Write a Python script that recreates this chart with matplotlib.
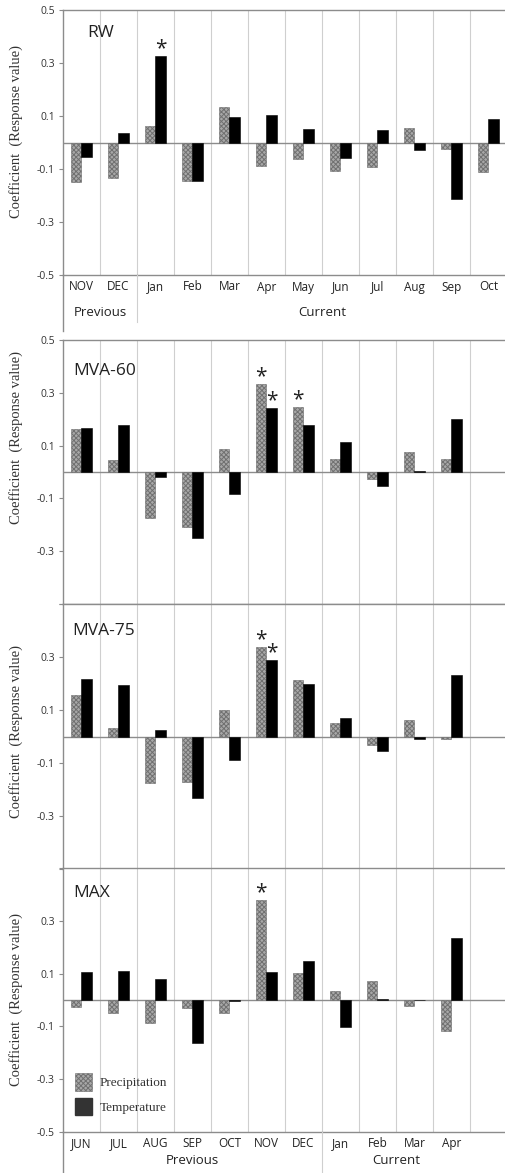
import numpy as np
import matplotlib
matplotlib.use("Agg")
import matplotlib.pyplot as plt
from matplotlib.patches import Patch
from matplotlib.lines import Line2D

# months
months_rw = ["NOV", "DEC", "Jan", "Feb", "Mar", "Apr", "May", "Jun", "Jul", "Aug", "Sep", "Oct"]
months_mva = ["JUN", "JUL", "AUG", "SEP", "OCT", "NOV", "DEC", "Jan", "Feb", "Mar", "Apr"]

# coefficients
rw_prec = [-0.150, -0.135, 0.061, -0.146, 0.135, -0.088, -0.061, -0.106, -0.091, 0.056, -0.023, -0.113]
rw_temp = [-0.056, 0.034, 0.328, -0.144, 0.098, 0.104, 0.051, -0.059, 0.049, -0.030, -0.215, 0.090]

mva60_prec = [0.161, 0.046, -0.175, -0.208, 0.087, 0.334, 0.247, 0.051, -0.027, 0.077, 0.049]
mva60_temp = [0.166, 0.179, -0.020, -0.250, -0.085, 0.244, 0.178, 0.114, -0.054, 0.005, 0.200]

mva75_prec = [0.155, 0.031, -0.174, -0.171, 0.099, 0.339, 0.213, 0.050, -0.033, 0.064, -0.010]
mva75_temp = [0.218, 0.195, 0.023, -0.233, -0.089, 0.289, 0.198, 0.070, -0.054, -0.009, 0.231]

max_prec = [-0.025, -0.048, -0.086, -0.032, -0.050, 0.377, 0.101, 0.034, 0.073, -0.023, -0.116]
max_temp = [0.106, 0.111, 0.080, -0.163, -0.005, 0.106, 0.148, -0.103, 0.004, 0.000, 0.233]

# significant bars: (month index, series)  series 0 = precipitation, 1 = temperature
rw_sig = [(2, 1)]
mva60_sig = [(5, 0), (5, 1), (6, 0)]
mva75_sig = [(5, 0), (5, 1)]
max_sig = [(5, 0)]

yticks = [-0.5, -0.3, -0.1, 0.1, 0.3, 0.5]

W, H = 505, 1173
fig = plt.figure(figsize=(W / 100, H / 100), dpi=100)
plt.rcParams['hatch.linewidth'] = 0.7
plt.rcParams['hatch.color'] = '#505050'

GREY = '#8c8c8c'
PREC_FACE = '#a8a8a8'
SANS = ['Open Sans', 'DejaVu Sans']
SERIF = ['Liberation Serif', 'DejaVu Serif']
XMAX = 11.95
left = 63 / W
width = 1 - left


def ax_at(top_px, bot_px):
    return fig.add_axes([left, 1 - bot_px / H, width, (bot_px - top_px) / H])


def draw_panel(ax, name, prec, temp, sig, shown_ticks, name_pos):
    x = np.arange(len(prec)) + 0.5
    bw = 0.285
    ax.bar(x - bw / 2, prec, bw, color=PREC_FACE, hatch='xxxxxxx', edgecolor='#707070',
           linewidth=0.4, zorder=3)
    ax.bar(x + bw / 2, temp, bw, color='black', edgecolor='black', linewidth=0.4, zorder=3)
    for i, s in sig:
        v = prec[i] if s == 0 else temp[i]
        xs = x[i] - bw / 2 if s == 0 else x[i] + bw / 2
        ax.text(xs, v - 0.012, '*', ha='center', va='bottom', fontsize=15,
                family=SANS, color='#222222')
    ax.axhline(0, color=GREY, lw=1.0, zorder=2)
    for b in range(1, 12):
        ax.axvline(b, color='#cfcfcf', lw=0.8, zorder=1)
    ax.set_xlim(0, XMAX)
    ax.set_ylim(-0.5, 0.5)
    ax.set_yticks(yticks)
    ax.set_yticklabels([('%.1f' % t) if t in shown_ticks else '' for t in yticks],
                       fontsize=7.5, family=SANS, color='#333333')
    ax.tick_params(axis='y', length=3, color=GREY, pad=3)
    ax.set_xticks([])
    for s in ['left', 'top', 'bottom']:
        ax.spines[s].set_color(GREY)
        ax.spines[s].set_linewidth(1.0)
    ax.spines['right'].set_visible(False)
    ax.text(name_pos[0], name_pos[1], name, transform=ax.transAxes, fontsize=12.5,
            family=SANS, ha='left', va='center', color='#222222')


def ylabel_at(yc):
    fig.text(16 / W, 1 - yc / H, 'Coefficient  (Response value)', rotation=90,
             ha='center', va='center', fontsize=10.5, family=SERIF, color='#333333')


def month_labels(ax, labels, groups, bot_px, split, gap, sep_len):
    for i, m in enumerate(labels):
        ax.text(i + 0.5, -0.5 - 12 / 265, m, ha='center', va='center', fontsize=8.5,
                family=SANS, color='#222222', clip_on=False)
    for xc, g in groups:
        ax.text(xc, -0.5 - gap / 265, g, ha='center', va='center', fontsize=9.5,
                family=SANS, color='#222222', clip_on=False)
    # separator between previous and current year
    xs = left + split / XMAX * width
    fig.add_artist(Line2D([xs, xs], [1 - bot_px / H, 1 - (bot_px + sep_len) / H],
                          color='#cfcfcf', lw=0.8))
    fig.add_artist(Line2D([left, left], [1 - bot_px / H, 1 - (bot_px + 56) / H],
                          color=GREY, lw=1.0))


ax1 = ax_at(10, 275)
draw_panel(ax1, 'RW', rw_prec, rw_temp, rw_sig, [-0.5, -0.3, -0.1, 0.1, 0.3, 0.5], (0.054, 0.913))
month_labels(ax1, months_rw, [(1, 'Previous'), (7, 'Current')], 275, 2, 37, 47)
ylabel_at(131)

ax2 = ax_at(340, 604)
draw_panel(ax2, 'MVA-60', mva60_prec, mva60_temp, mva60_sig, [-0.3, -0.1, 0.1, 0.3, 0.5], (0.023, 0.883))
ylabel_at(438)

ax3 = ax_at(604, 869)
draw_panel(ax3, 'MVA-75', mva75_prec, mva75_temp, mva75_sig, [-0.3, -0.1, 0.1, 0.3], (0.02, 0.90))
ylabel_at(732)

ax4 = ax_at(868, 1132)
draw_panel(ax4, 'MAX', max_prec, max_temp, max_sig, [-0.5, -0.3, -0.1, 0.1, 0.3], (0.023, 0.905))
month_labels(ax4, months_mva, [(3.5, 'Previous'), (9, 'Current')], 1132, 7, 29, 45)
ylabel_at(1000)

handles = [Patch(facecolor=PREC_FACE, hatch='xxxxxxx', edgecolor='#707070', linewidth=0.4),
           Patch(facecolor='#333333', edgecolor='#333333')]
ax4.legend(handles, ['Precipitation', 'Temperature'], loc='lower left',
           bbox_to_anchor=(0.0, 0.018), frameon=False, prop={'family': SERIF, 'size': 9.5},
           handlelength=1.3, handleheight=1.7, handletextpad=0.6, labelspacing=0.5,
           labelcolor='#333333')

fig.savefig('out.png', dpi=100)
